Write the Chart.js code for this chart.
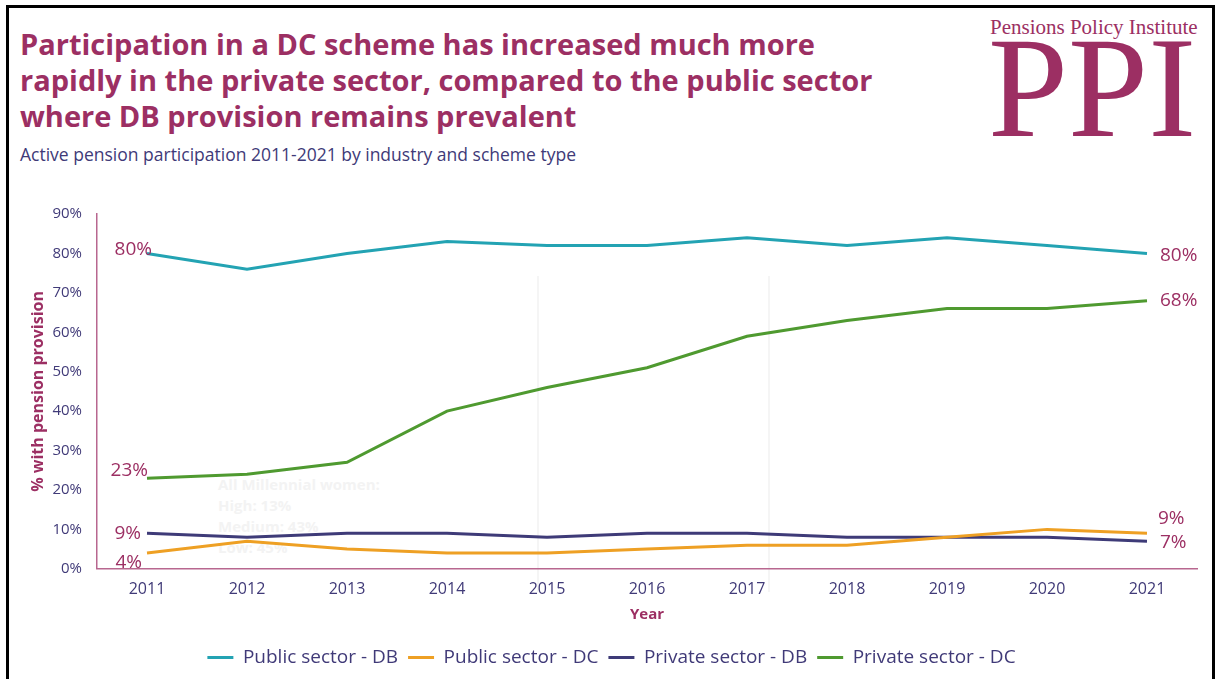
<!DOCTYPE html>
<html>
<head>
<meta charset="utf-8">
<title>Active pension participation 2011-2021</title>
<script src="https://cdn.jsdelivr.net/npm/chart.js"></script>
<style>
  html, body { margin: 0; padding: 0; background: #fff; }
  body { width: 1216px; height: 679px; position: relative; overflow: hidden; font-family: "Open Sans", sans-serif; }
  .frame { position: absolute; left: 6px; top: 5px; width: 1203px; height: 700px; border: 3px solid #000; border-bottom: none; }
  h1 { position: absolute; left: 20px; top: 26px; margin: 0; font-size: 29px; line-height: 36px; font-weight: 700; color: #9c2f63; white-space: nowrap; }
  .sub { position: absolute; left: 20px; top: 142px; font-size: 17.5px; color: #403a78; white-space: nowrap; }
  .logo-top { position: absolute; left: 990px; top: 17px; font-family: "Liberation Serif", serif; font-size: 21px; line-height: 1; color: #9c2f63; white-space: nowrap; }
  .logo-big { position: absolute; left: 988px; top: 16px; font-family: "Liberation Serif", serif; font-size: 144px; line-height: 1; color: #9c2f63; }
  .ghost { position: absolute; left: 218px; top: 474px; font-size: 15px; line-height: 21px; font-weight: 700; color: #f3f3f3; }
  .vline { position: absolute; top: 276px; width: 2px; height: 316px; background: #f5f5f5; }
  .chart-box { position: absolute; left: 0; top: 190px; width: 1216px; height: 489px; }
</style>
</head>
<body>
<div class="frame"></div>
<h1>Participation in a DC scheme has increased much more<br>rapidly in the private sector, compared to the public sector<br>where DB provision remains prevalent</h1>
<div class="sub">Active pension participation 2011-2021 by industry and scheme type</div>
<div class="logo-top">Pensions Policy Institute</div>
<div class="logo-big">PPI</div>
<div class="vline" style="left:537px"></div>
<div class="vline" style="left:768px"></div>
<div class="ghost">All Millennial women:<br>High: 13%<br>Medium: 43%<br>Low: 45%</div>
<div class="chart-box"><canvas id="participation"></canvas></div>

<script>
const years = ['2011', '2012', '2013', '2014', '2015', '2016', '2017', '2018', '2019', '2020', '2021'];
const publicDB = [80, 76, 80, 83, 82, 82, 84, 82, 84, 82, 80];
const publicDC = [4, 7, 5, 4, 4, 5, 6, 6, 8, 10, 9];
const privateDB = [9, 8, 9, 9, 8, 9, 9, 8, 8, 8, 7];
const privateDC = [23, 24, 27, 40, 46, 51, 59, 63, 66, 66, 68];
const yTicks = [0, 10, 20, 30, 40, 50, 60, 70, 80, 90];

const plum = '#9c2f63';
const navy = '#403a78';

// where the start / end value labels sit relative to their point
const endLabels = [
  { start: { dx: 5, dy: -4, align: 'right' }, end: { dx: 13, dy: 2, align: 'left' } },
  { start: { dx: -5, dy: 10, align: 'right' }, end: { dx: 11, dy: -15, align: 'left' } },
  { start: { dx: -6, dy: 0, align: 'right' }, end: { dx: 13, dy: 1, align: 'left' } },
  { start: { dx: 1, dy: -8, align: 'right' }, end: { dx: 13, dy: 0, align: 'left' } }
];

const endLabelPlugin = {
  id: 'endLabels',
  afterDatasetsDraw(chart) {
    const ctx = chart.ctx;
    ctx.save();
    ctx.font = '19px "Open Sans"';
    ctx.fillStyle = plum;
    ctx.textBaseline = 'middle';
    chart.data.datasets.forEach((ds, i) => {
      const pts = chart.getDatasetMeta(i).data;
      const cfg = endLabels[i];
      [[0, cfg.start], [pts.length - 1, cfg.end]].forEach(([idx, o]) => {
        const p = pts[idx];
        ctx.textAlign = o.align;
        ctx.fillText(ds.data[idx] + '%', p.x + o.dx, p.y + o.dy);
      });
    });
    ctx.restore();
  }
};

// nudge the legend row a little to the right of the plot centre
const legendShift = {
  id: 'legendShift',
  afterLayout(chart) {
    chart.legend.left += 13;
    chart.legend.right += 13;
  }
};

function series(label, data, color) {
  return {
    label: label,
    data: data,
    borderColor: color,
    backgroundColor: color,
    borderWidth: 3,
    pointRadius: 0,
    tension: 0,
    fill: false
  };
}

new Chart(document.getElementById('participation'), {
  type: 'line',
  data: {
    labels: years,
    datasets: [
      series('Public sector - DB', publicDB, '#23a3b3'),
      series('Public sector - DC', publicDC, '#eea024'),
      series('Private sector - DB', privateDB, '#3e3b78'),
      series('Private sector - DC', privateDC, '#4f9a30')
    ]
  },
  options: {
    responsive: true,
    maintainAspectRatio: false,
    animation: false,
    layout: { padding: { top: 22, right: 19, bottom: 2, left: 0 } },
    plugins: {
      tooltip: { enabled: false },
      legend: {
        position: 'bottom',
        labels: {
          usePointStyle: true,
          pointStyle: 'line',
          pointStyleWidth: 26,
          color: navy,
          font: { family: 'Open Sans', size: 19 },
          padding: 10
        }
      }
    },
    scales: {
      x: {
        offset: true,
        grid: { display: false, drawTicks: false },
        border: { display: true, color: '#b8678f', width: 1.5 },
        ticks: { color: navy, font: { family: 'Open Sans', size: 16 }, padding: 11 },
        title: {
          display: true,
          text: 'Year',
          color: plum,
          font: { family: 'Open Sans', size: 15, weight: 'bold' },
          padding: { top: -4, bottom: 14 }
        }
      },
      y: {
        min: 0,
        max: 90,
        afterBuildTicks: scale => { scale.ticks = yTicks.map(v => ({ value: v })); },
        afterFit: scale => { scale.width = 97; },
        grid: { display: false, drawTicks: false },
        border: { display: true, color: '#b8678f', width: 1.5 },
        ticks: { color: navy, font: { family: 'Open Sans', size: 15 }, padding: 15, callback: v => v + '%' },
        title: {
          display: true,
          text: '% with pension provision',
          color: plum,
          font: { family: 'Open Sans', size: 16, weight: 'bold' },
          padding: { top: 29, bottom: 0 }
        }
      }
    }
  },
  plugins: [endLabelPlugin, legendShift]
});
</script>
</body>
</html>
